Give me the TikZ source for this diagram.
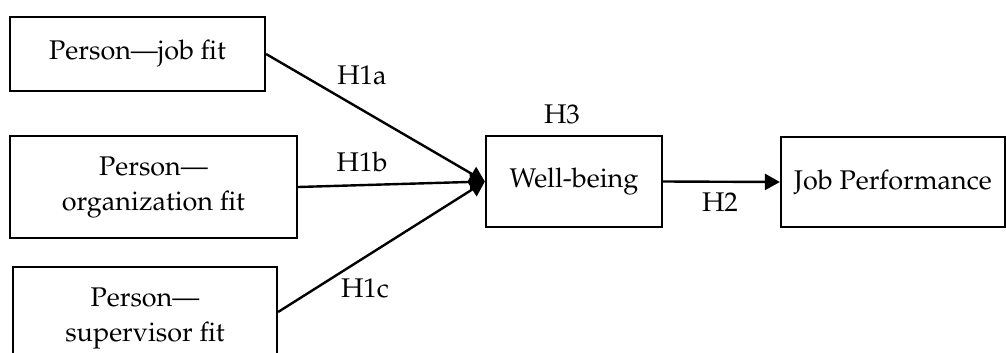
\documentclass[tikz,border=0pt]{standalone}
\usepackage[T1]{fontenc}
\usepackage{mathpazo}
\usetikzlibrary{arrows.meta,calc}
\begin{document}
\begin{tikzpicture}[x=1pt,y=-1pt,
  txt/.style={font=\fontsize{27}{35}\selectfont},
  box/.style={txt,draw,line width=2.2pt,inner sep=0pt,align=center},
  conn/.style={line width=2.4pt,-{Triangle[length=15pt,width=16pt]}},
  lbl/.style={txt,inner sep=0pt}]
\useasboundingbox (0,0) rectangle (1006,353);
\begin{scope}
\clip (0,0) rectangle (1006,353);
\node[box,minimum width=255pt,minimum height=74pt] (b1) at (137.5,54) {Person---job fit};
\node[box,minimum width=287pt,minimum height=102pt] (b2) at (153.5,187) {Person---\\organization fit};
\node[box,minimum width=264pt,minimum height=102pt] (b3) at (145,318) {Person---\\supervisor fit};
\node[box,minimum width=176pt,minimum height=91pt] (wb) at (574,181.5) {Well-being};
\node[box,minimum width=224pt,minimum height=90pt] (jp) at (893,182) {Job Performance};
\draw[conn] (b1.east) -- (wb.west);
\draw[conn] (b2.east) -- (wb.west);
\draw[conn] ([yshift=6pt]b3.east) -- (wb.west);
\draw[conn] (wb.east) -- (jp.west);
\node[lbl] (h1a) at (362,75) {H1a};
\node[lbl] (h1b) at (362,162) {H1b};
\node[lbl] (h1c) at (365,288) {H1c};
\node[lbl] (h3) at (562,114) {H3};
\node[lbl] (h2) at (720,202) {H2};
\end{scope}
\end{tikzpicture}
\end{document}
